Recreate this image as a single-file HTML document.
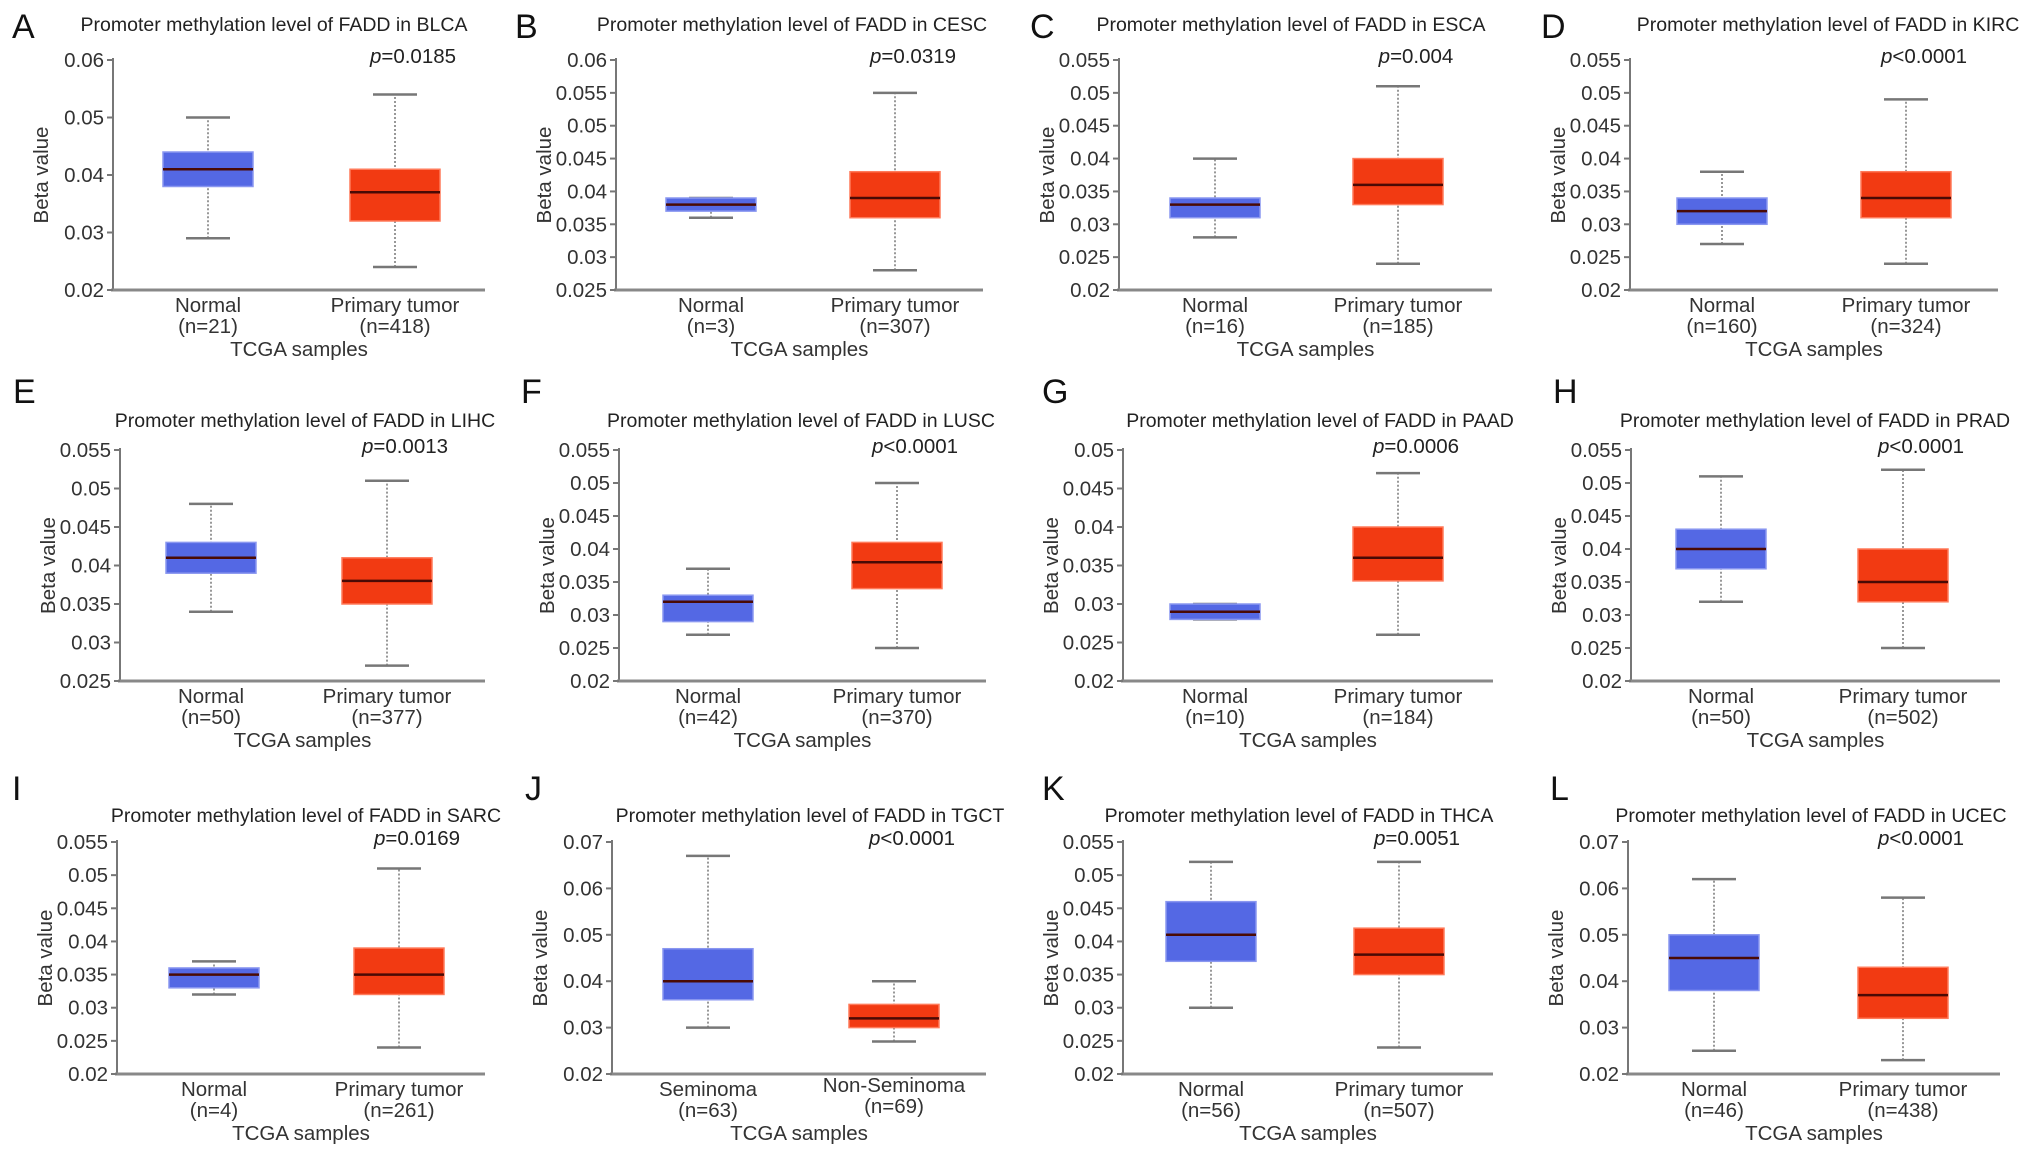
<!DOCTYPE html>
<html><head><meta charset="utf-8"><style>
html,body{margin:0;padding:0;background:#fff;}
svg{display:block;font-family:"Liberation Sans",Arial,sans-serif;}
</style></head><body>
<svg id="fig" width="2032" height="1162" viewBox="0 0 2032 1162"></svg>
<script>
// ---- data ----
const letters=["A","B","C","D","E","F","G","H","I","J","K","L"];
const cancers=["BLCA","CESC","ESCA","KIRC","LIHC","LUSC","PAAD","PRAD","SARC","TGCT","THCA","UCEC"];
const pValues=["=0.0185","=0.0319","=0.004","<0.0001","=0.0013","<0.0001","=0.0006","<0.0001","=0.0169","<0.0001","=0.0051","<0.0001"];
const group1Names=["Normal","Normal","Normal","Normal","Normal","Normal","Normal","Normal","Normal","Seminoma","Normal","Normal"];
const group2Names=["Primary tumor","Primary tumor","Primary tumor","Primary tumor","Primary tumor","Primary tumor","Primary tumor","Primary tumor","Primary tumor","Non-Seminoma","Primary tumor","Primary tumor"];
const group1N=[21,3,16,160,50,42,10,50,4,63,56,46];
const group2N=[418,307,185,324,377,370,184,502,261,69,507,438];
// [min, q1, median, q3, max]
const group1Stats=[
 [0.029,0.038,0.041,0.044,0.050],[0.036,0.037,0.038,0.039,0.039],[0.028,0.031,0.033,0.034,0.040],[0.027,0.030,0.032,0.034,0.038],
 [0.034,0.039,0.041,0.043,0.048],[0.027,0.029,0.032,0.033,0.037],[0.028,0.028,0.029,0.030,0.030],[0.032,0.037,0.040,0.043,0.051],
 [0.032,0.033,0.035,0.036,0.037],[0.030,0.036,0.040,0.047,0.067],[0.030,0.037,0.041,0.046,0.052],[0.025,0.038,0.045,0.050,0.062]];
const group2Stats=[
 [0.024,0.032,0.037,0.041,0.054],[0.028,0.036,0.039,0.043,0.055],[0.024,0.033,0.036,0.040,0.051],[0.024,0.031,0.034,0.038,0.049],
 [0.027,0.035,0.038,0.041,0.051],[0.025,0.034,0.038,0.041,0.050],[0.026,0.033,0.036,0.040,0.047],[0.025,0.032,0.035,0.040,0.052],
 [0.024,0.032,0.035,0.039,0.051],[0.027,0.030,0.032,0.035,0.040],[0.024,0.035,0.038,0.042,0.052],[0.023,0.032,0.037,0.043,0.058]];
const axisMin=[0.02,0.025,0.02,0.02,0.025,0.02,0.02,0.02,0.02,0.02,0.02,0.02];
const axisMax=[0.06,0.06,0.055,0.055,0.055,0.055,0.05,0.055,0.055,0.07,0.055,0.07];
const tickStep=[0.01,0.005,0.005,0.005,0.005,0.005,0.005,0.005,0.005,0.01,0.005,0.01];

// ---- layout (pixels) ----
const colAxisX=[[113,616,1119,1630],[120,619,1123,1631],[117,612,1123,1628]];
const colEndX=[[485,983,1492,1998],[485,986,1493,2000],[485,986,1493,2000]];
const rowTopY=[60,450,842], rowBotY=[290,681,1074];
const g1X=[[208,711,1215,1722],[211,708,1215,1721],[214,708,1211,1714]];
const g2X=[[395,895,1398,1906],[387,897,1398,1903],[399,894,1399,1903]];
const titleX=[[274,792,1291,1828],[305,801,1320,1815],[306,810,1299,1811]];
const titleY=[31,427,822];
const letterX=[[12,515,1030,1541],[13,521,1042,1553],[12,525,1042,1550]];
const letterY=[38,403,800];

const NS="http://www.w3.org/2000/svg";
const svg=document.getElementById("fig");
function mk(tag,attrs,parent,text){const e=document.createElementNS(NS,tag);for(const k in attrs)e.setAttribute(k,attrs[k]);if(text!==undefined)e.textContent=text;(parent||svg).appendChild(e);return e;}

const FS=20.5;
for(let i=0;i<12;i++){
 const r=Math.floor(i/4),c=i%4;
 const ax=colAxisX[r][c],ex=colEndX[r][c],top=rowTopY[r],bot=rowBotY[r];
 const y=v=>bot-(v-axisMin[i])/(axisMax[i]-axisMin[i])*(bot-top);
 const g=mk("g",{});
 
 
 const L=mk("text",{x:letterX[r][c],y:letterY[r],"font-size":34,fill:"#111"},g,letters[i]);
 
 
 const T=mk("text",{x:titleX[r][c],y:titleY[r],"font-size":19.5,fill:"#222","text-anchor":"middle"},g,"Promoter methylation level of FADD in "+cancers[i]);
 
 
 const ya=mk("line",{x1:ax,y1:top-2,x2:ax,y2:bot,stroke:"#777","stroke-width":2},g);
 
 
 const xa=mk("line",{x1:ax-2,y1:bot,x2:ex,y2:bot,stroke:"#888","stroke-width":3},g);
 
 
 const nt=Math.round((axisMax[i]-axisMin[i])/tickStep[i]);
 for(let k=0;k<=nt;k++){
  const v=axisMin[i]+k*tickStep[i];const yy=y(v);
  mk("line",{x1:ax-6,y1:yy,x2:ax,y2:yy,stroke:"#777","stroke-width":2},g);
  const t=mk("text",{x:ax-9,y:yy+7,"font-size":FS,fill:"#333","text-anchor":"end"},g,String(+v.toFixed(3)));
  
  
 }
 const yl=mk("text",{transform:`translate(${ax-65},${(top+bot)/2}) rotate(-90)`,"font-size":FS,fill:"#333","text-anchor":"middle"},g,"Beta value");
 
 
 const pt=mk("text",{x:(g2X[r][c]+18),y:top+3,"font-size":FS,fill:"#222","text-anchor":"middle"},g);
 
 
 mk("tspan",{"font-style":"italic"},pt,"p");mk("tspan",{},pt,pValues[i]);
 const groups=[[g1X[r][c],group1Stats[i],"#5468e4","#8a97f0",group1Names[i],group1N[i],'box-group1'],[g2X[r][c],group2Stats[i],"#f23a12","#ff7a5a",group2Names[i],group2N[i],'box-group2']];
 for(const [cx,s,col,edge,nm,n,name] of groups){
  const bg=mk("g",{},g);
  
  
  mk("line",{x1:cx,y1:y(s[0]),x2:cx,y2:y(s[4]),stroke:"#777","stroke-width":1.5,"stroke-dasharray":"2,2"},bg);
  mk("line",{x1:cx-22,y1:y(s[0]),x2:cx+22,y2:y(s[0]),stroke:"#777","stroke-width":2.5},bg);
  mk("line",{x1:cx-22,y1:y(s[4]),x2:cx+22,y2:y(s[4]),stroke:"#777","stroke-width":2.5},bg);
  mk("rect",{x:cx-45,y:y(s[3]),width:90,height:Math.max(2,y(s[1])-y(s[3])),fill:col,stroke:edge,"stroke-width":1.5},bg);
  mk("line",{x1:cx-45,y1:y(s[2]),x2:cx+45,y2:y(s[2]),stroke:"#4a0a05","stroke-width":2.5},bg);
  const dy=(nm==="Non-Seminoma")?-4:0;
  const l1=mk("text",{x:cx,y:bot+22+dy,"font-size":FS,fill:"#333","text-anchor":"middle"},g,nm);
  
  
  const l2=mk("text",{x:cx,y:bot+43+dy,"font-size":FS,fill:"#333","text-anchor":"middle"},g,"(n="+n+")");
  
  
 }
 const xt=mk("text",{x:(ax+ex)/2,y:bot+66,"font-size":FS,fill:"#333","text-anchor":"middle"},g,"TCGA samples");
 
 
}
</script>
</body></html>
